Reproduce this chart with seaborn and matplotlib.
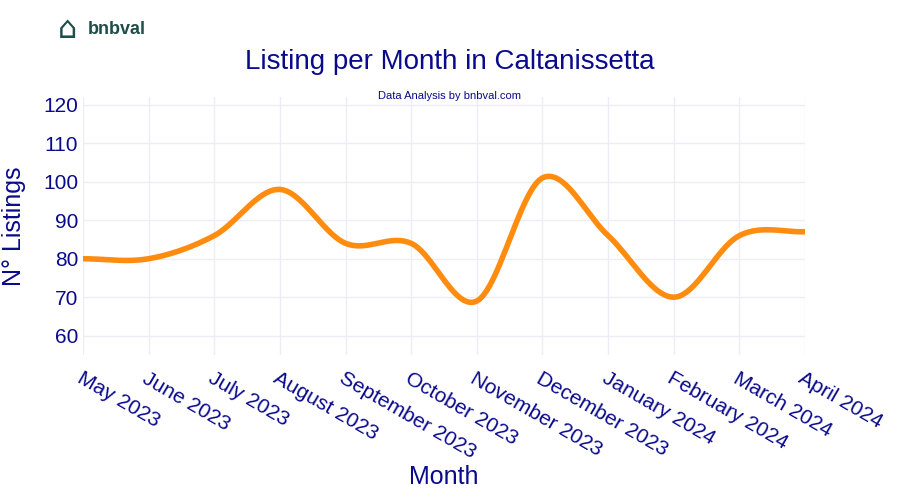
import numpy as np
import matplotlib.pyplot as plt
import seaborn as sns

months = ["May 2023", "June 2023", "July 2023", "August 2023", "September 2023",
          "October 2023", "November 2023", "December 2023", "January 2024",
          "February 2024", "March 2024", "April 2024"]
listings = [80, 80, 86, 98, 84, 84, 69, 101, 86, 70, 86, 87]
y_ticks = [60, 70, 80, 90, 100, 110, 120]

NAVY = "#0a0a8c"


def smooth(xs, ys, n=20):
    """Catmull-Rom spline through the points, like plotly's spline shape."""
    xs = np.asarray(xs, float)
    ys = np.asarray(ys, float)
    px = np.concatenate([[2 * xs[0] - xs[1]], xs, [2 * xs[-1] - xs[-2]]])
    py = np.concatenate([[ys[0]], ys, [ys[-1]]])
    out_x, out_y = [], []
    t = np.linspace(0, 1, n, endpoint=False)
    for i in range(1, len(px) - 2):
        for arr, out in ((px, out_x), (py, out_y)):
            p0, p1, p2, p3 = arr[i - 1:i + 3]
            out.extend(0.5 * (2 * p1 + (-p0 + p2) * t
                              + (2 * p0 - 5 * p1 + 4 * p2 - p3) * t ** 2
                              + (-p0 + 3 * p1 - 3 * p2 + p3) * t ** 3))
    out_x.append(xs[-1])
    out_y.append(ys[-1])
    return np.array(out_x), np.array(out_y)


sns.set_style("white")
plt.rcParams["font.family"] = "Liberation Sans"
fig = plt.figure(figsize=(9, 5), dpi=100)
ax = fig.add_axes([83 / 900, 1 - 355 / 500, (805 - 83) / 900, (355 - 97) / 500])

x = np.arange(len(months))
sx, sy = smooth(x, listings)
sns.lineplot(x=sx, y=sy, ax=ax, color="#ff8c0f", linewidth=4, sort=False)

ax.set_xlim(0, len(months) - 1)
ax.set_ylim(55, 122)
ax.set_yticks(y_ticks)
ax.set_xticks(x)
ax.set_xticklabels(months, rotation=-30, ha="left", rotation_mode="anchor")
ax.tick_params(axis="both", colors=NAVY, labelsize=15, length=0)
ax.tick_params(axis="x", pad=10)
ax.grid(color="#ebeef5", linewidth=1)
for s in ax.spines.values():
    s.set_visible(False)
ax.set_xlabel("Month", color=NAVY, fontsize=18, labelpad=2)
ax.set_ylabel("N° Listings", color=NAVY, fontsize=18, labelpad=12)

fig.text(0.5, 1 - 62 / 500, "Listing per Month in Caltanissetta", ha="center",
         va="center", color=NAVY, fontsize=20)
fig.text(0.5, 1 - 96 / 500, "Data Analysis by bnbval.com", ha="center",
         va="center", color=NAVY, fontsize=8)
fig.text(88 / 900, 1 - 30 / 500, "bnbval", ha="left", va="center",
         color="#1f4e4a", fontsize=13, fontweight="bold")
fig.text(68 / 900, 1 - 30 / 500, "⌂", ha="center", va="center",
         color="#1f4e4a", fontsize=22, family="DejaVu Sans")

fig.savefig("out.png", dpi=100)
